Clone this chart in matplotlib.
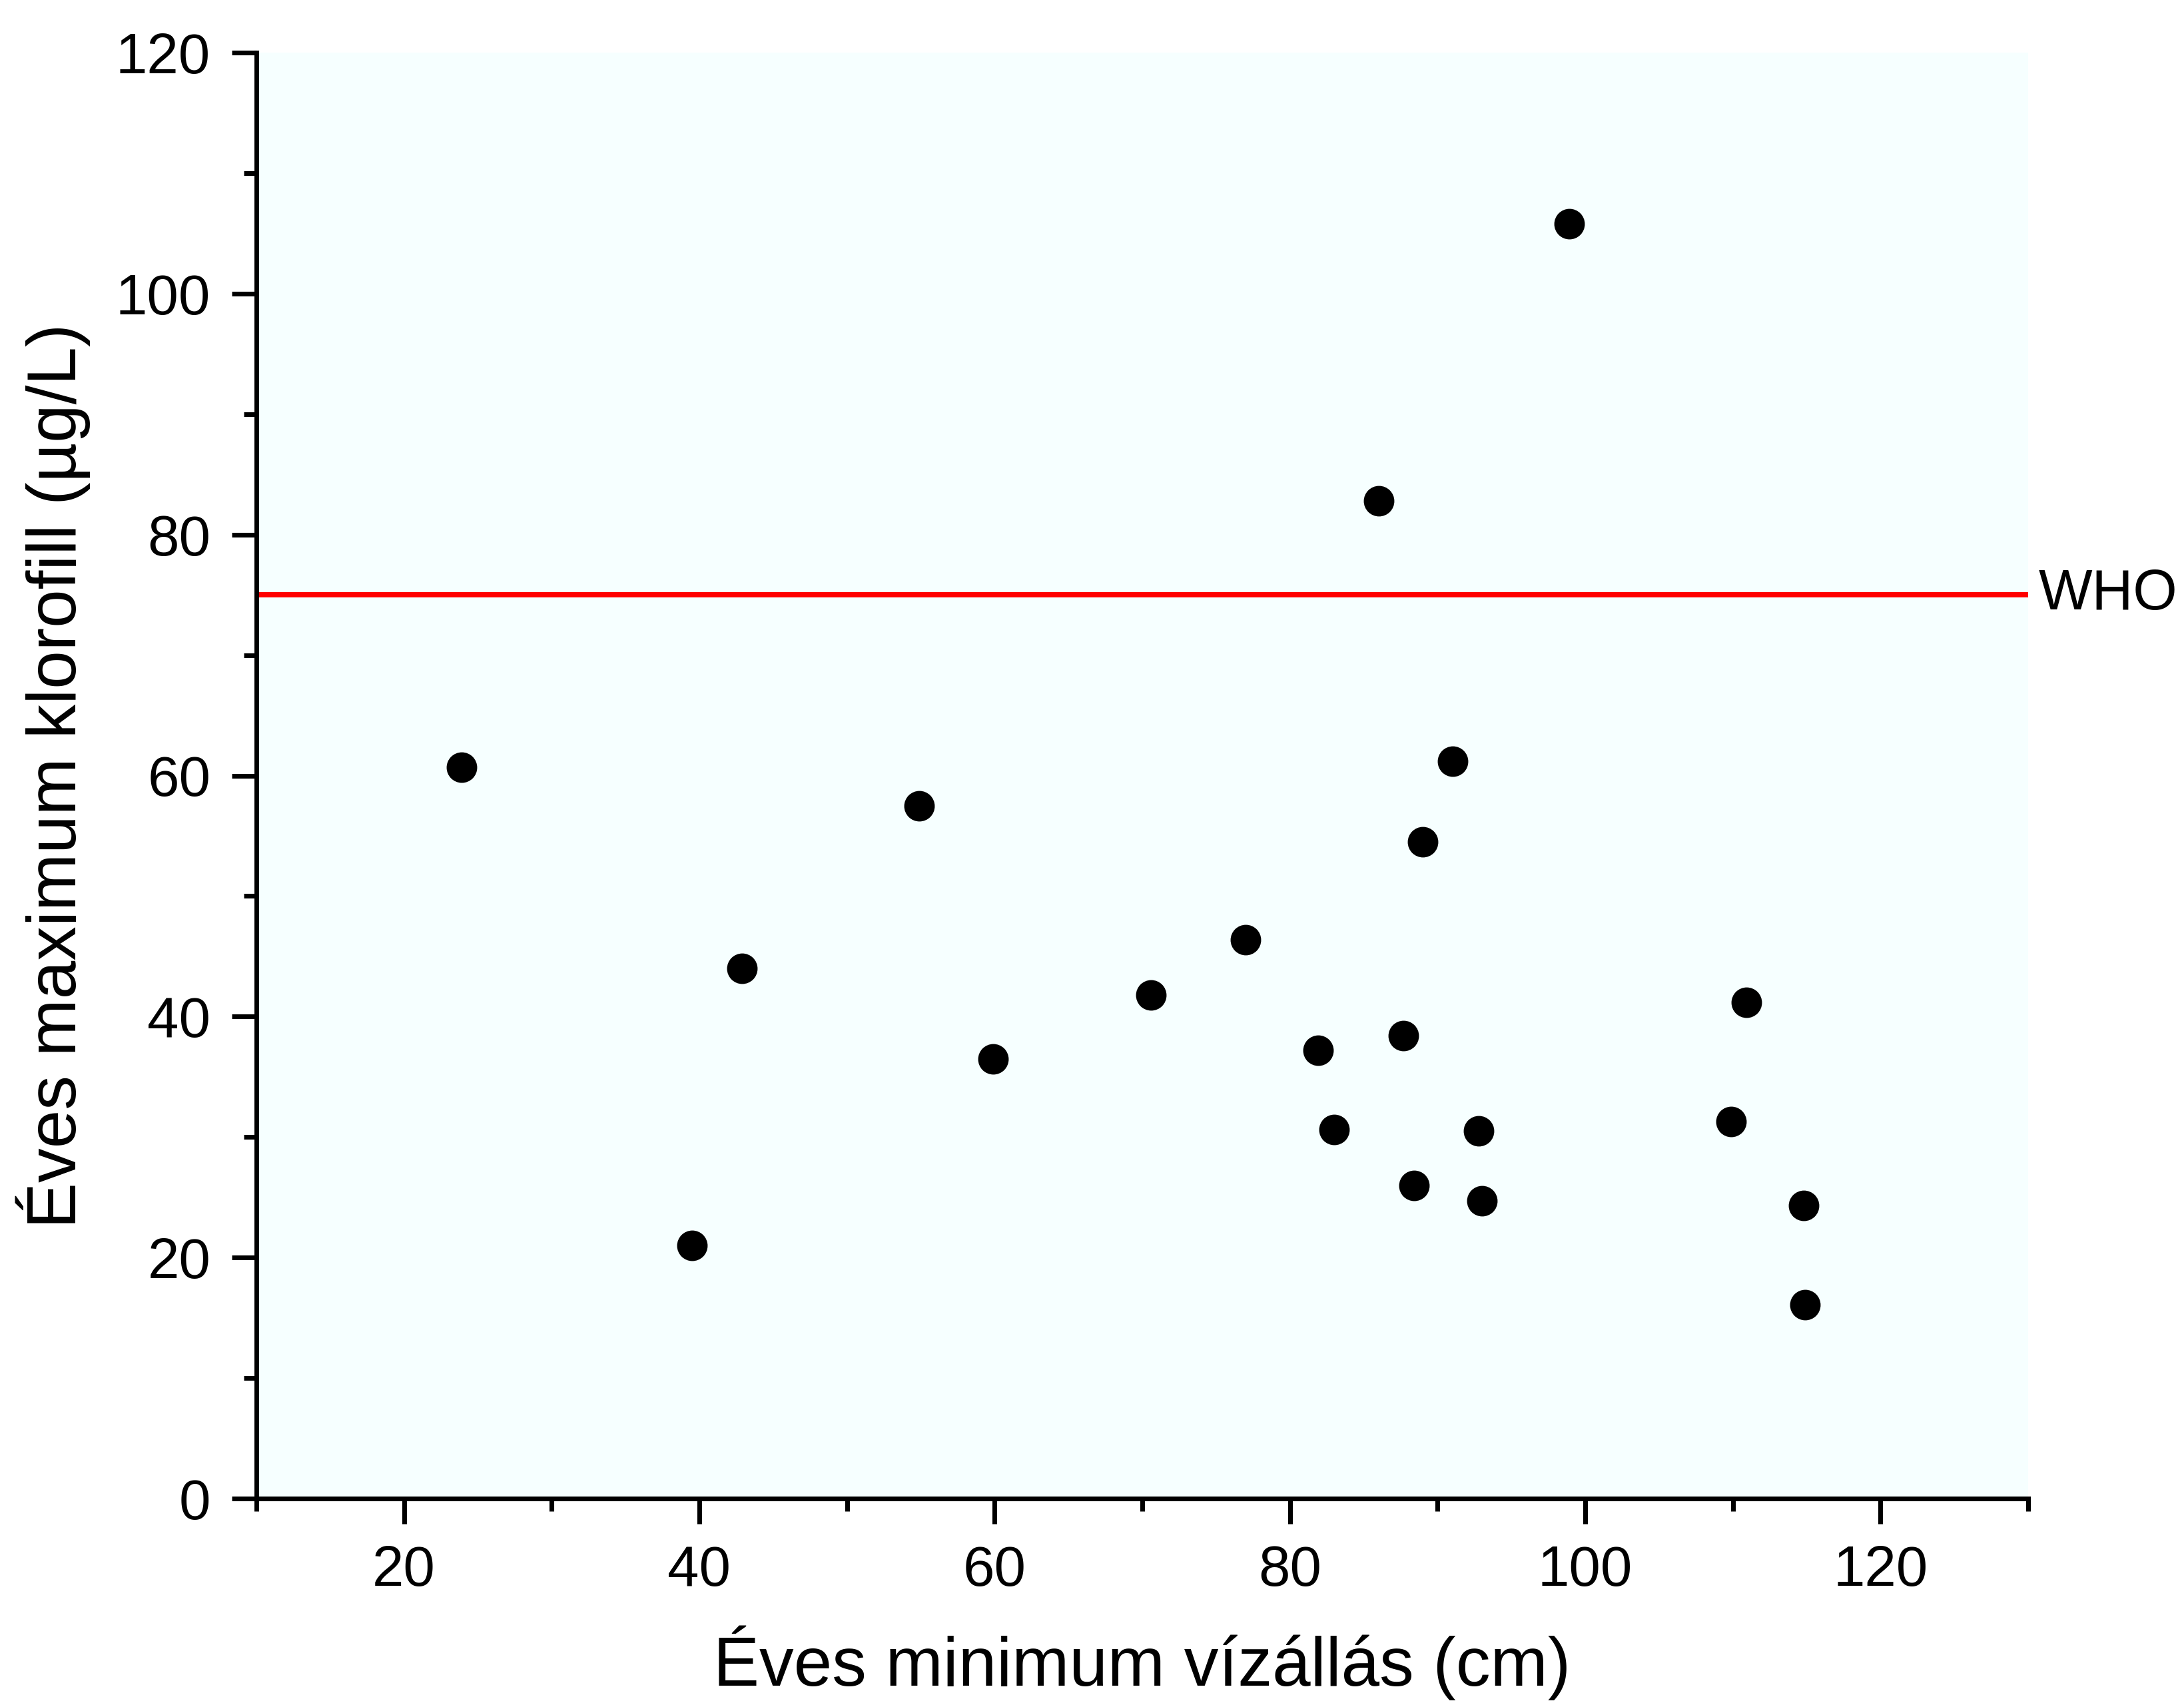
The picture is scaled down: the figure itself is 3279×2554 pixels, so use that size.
import matplotlib
matplotlib.use("Agg")
import matplotlib.pyplot as plt
from matplotlib.ticker import MultipleLocator

plt.rcParams['font.family'] = ['Liberation Sans', 'DejaVu Sans']

# Data
water_level = [23.9, 39.5, 42.9, 54.9, 59.9, 70.6, 77.0, 81.9, 83.0, 86.0,
               87.7, 88.4, 89.0, 91.0, 92.8, 93.0, 98.9, 109.9, 110.9, 114.8, 114.9]
chlorophyll = [60.7, 21.0, 44.0, 57.5, 36.5, 41.8, 46.4, 37.2, 30.6, 82.8,
               38.4, 26.0, 54.5, 61.2, 30.5, 24.7, 105.8, 31.3, 41.2, 24.3, 16.1]
who_limit = 75
who_label = "WHO"
x_label = "Éves minimum vízállás (cm)"
y_label = "Éves maximum klorofill (µg/L)"

fig = plt.figure(figsize=(3279/300, 2554/300), dpi=300)
ax = fig.add_axes([385/3279, 1 - 2250/2554, (3045-385)/3279, (2250-79)/2554])
ax.set_facecolor('#F6FFFF')

ax.plot(water_level, chlorophyll, 'o', color='black', markersize=10, clip_on=False, zorder=3)
ax.axhline(who_limit, color='#FF0000', lw=1.9, zorder=2)
ax.text(1.006, who_limit, who_label, transform=ax.get_yaxis_transform(),
        ha='left', va='center', fontsize=20.5)

ax.set_xlim(10, 130)
ax.set_ylim(0, 120)
ax.xaxis.set_major_locator(MultipleLocator(20))
ax.xaxis.set_minor_locator(MultipleLocator(10))
ax.yaxis.set_major_locator(MultipleLocator(20))
ax.yaxis.set_minor_locator(MultipleLocator(10))
ax.set_xticks([20, 40, 60, 80, 100, 120])

for s in ['top', 'right']:
    ax.spines[s].set_visible(False)
for s in ['left', 'bottom']:
    ax.spines[s].set_linewidth(1.7)

ax.tick_params(which='major', direction='out', length=9, width=1.7, labelsize=20.5, pad=7.5)
ax.tick_params(which='minor', direction='out', length=4.5, width=1.7)

ax.set_xlabel(x_label, fontsize=24.8, labelpad=10)
ax.set_ylabel(y_label, fontsize=24.8, labelpad=9)

fig.savefig('out.png', dpi=300)
